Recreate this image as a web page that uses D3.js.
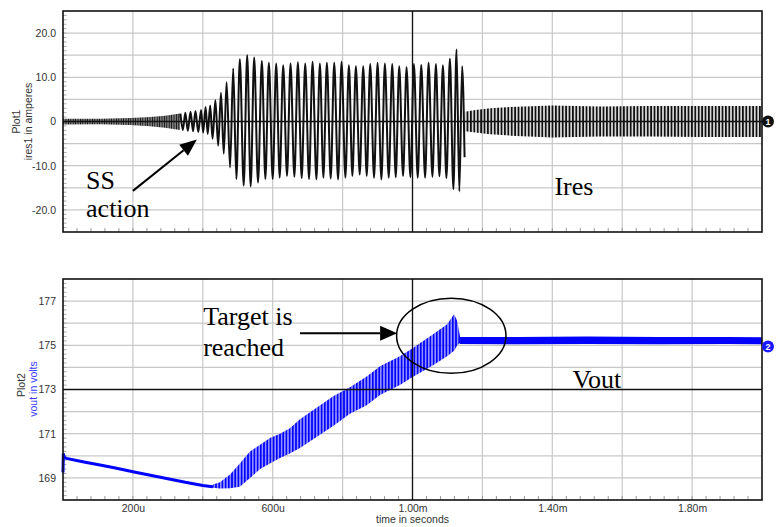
<!DOCTYPE html>
<html>
<head>
<meta charset="utf-8">
<script src="https://cdn.jsdelivr.net/npm/d3@7"></script>
<style>
  body { margin: 0; background: #fff; }
  svg { display: block; font-family: Arial, "Liberation Sans", sans-serif; }
  .ann { font-family: "Liberation Serif", "Times New Roman", serif; font-size: 26px; fill: #000; }
</style>
</head>
<body>
<div id="chart"></div>
<script>
// time is kept in microseconds
const timeLabelT = [200, 600, 1000, 1400, 1800]
const timeLabelText = ['200u', '600u', '1.00m', '1.40m', '1.80m']
const timeGridT = [200, 400, 600, 800, 1000, 1200, 1400, 1600, 1800]

const iresTicks = [20, 10, 0, -10, -20]
const iresTickText = ['20.0', '10.0', '0', '-10.0', '-20.0']
const iresGrid = [20, 15, 10, 5, -5, -10, -15, -20]

const voutTicks = [177, 175, 173, 171, 169]
const voutTickText = ['177', '175', '173', '171', '169']
const voutGrid = [177, 176, 175, 174, 172, 171, 170, 169]

// ires, low level switching before soft start ramps up (envelope)
const iresPreT  = [0, 106, 192, 249, 292, 335]
const iresPreHi = [0.6, 0.6, 0.8, 1.0, 1.3, 1.8]
const iresPreLo = [-0.7, -0.6, -0.8, -1.1, -1.4, -1.9]

// ires, soft start: each positive and negative peak
const iresPeakT = [336, 350, 365, 379, 395, 408, 421, 436, 452, 468, 487, 506, 527, 547, 569,
  589, 610, 630, 651, 672, 693, 714, 735, 755, 776, 797, 818, 838, 859, 879, 900, 921, 942,
  962, 983, 1004, 1025, 1046, 1067, 1087, 1107, 1126, 1142]
const iresPeakV = [1.8, 2.0, 2.2, 2.4, 2.6, 3.3, 3.6, 4.8, 6.5, 8.9, 12.0, 14.1, 15.0, 14.5, 13.7,
  13.3, 13.1, 12.7, 13.1, 13.4, 13.1, 13.5, 13.1, 13.3, 13.3, 13.5, 12.7, 12.5, 12.5, 13.0, 13.3,
  13.1, 13.0, 12.5, 12.3, 13.0, 12.8, 13.3, 13.0, 12.7, 14.2, 16.3, 12.5]
const iresTroughT = [343, 357, 372, 387, 401, 414, 428, 444, 460, 478, 496, 517, 537, 558, 579,
  600, 620, 641, 662, 683, 704, 725, 745, 766, 787, 808, 828, 849, 869, 890, 911, 932, 952,
  973, 994, 1015, 1036, 1057, 1077, 1097, 1117, 1134, 1149]
const iresTroughV = [-1.9, -2.1, -2.2, -2.4, -2.5, -2.8, -3.9, -5.5, -7.3, -10.4, -13.0, -14.5,
  -14.7, -13.8, -13.0, -13.0, -12.7, -12.3, -12.5, -12.8, -13.0, -13.1, -12.7, -12.9, -13.1,
  -12.7, -12.3, -12.0, -12.3, -12.7, -13.1, -12.7, -12.6, -12.3, -12.6, -12.7, -12.7, -12.5,
  -12.4, -12.8, -15.3, -15.8, -8.1]

// ires, steady state after target is reached (envelope)
const iresPostT  = [1150, 1180, 1222, 1280, 1400, 1536, 1680, 1822, 2000]
const iresPostHi = [2.2, 2.6, 3.0, 3.3, 3.6, 3.4, 3.5, 3.5, 3.5]
const iresPostLo = [-2.2, -2.5, -2.9, -3.2, -3.6, -3.4, -3.4, -3.5, -3.5]

// vout, slow droop before soft start
const voutPreT = [0, 1, 3, 10, 60, 106, 150, 200, 250, 300, 350, 400, 429]
const voutPreV = [169.25, 170.1, 169.95, 169.88, 169.72, 169.58, 169.45, 169.28, 169.12,
  168.96, 168.8, 168.66, 168.6]

// vout, ramp with ripple (ripple envelope)
const voutRiseT  = [429, 449, 478, 506, 535, 564, 592, 621, 649, 678, 773, 821, 870, 907, 964,
  999, 1059, 1099, 1119, 1128, 1136]
const voutRiseHi = [168.7, 168.8, 169.15, 169.65, 170.2, 170.5, 170.8, 171.0, 171.25, 171.65,
  172.7, 173.1, 173.6, 174.05, 174.5, 174.85, 175.5, 175.95, 176.4, 176.1, 175.4]
const voutRiseLo = [168.55, 168.52, 168.53, 168.6, 169.0, 169.4, 169.65, 169.9, 170.1, 170.35,
  171.35, 171.9, 172.3, 172.75, 173.2, 173.55, 174.1, 174.5, 174.75, 175.0, 175.1]

// vout, regulated
const voutFlatT  = [1136, 1300, 1500, 1700, 1900, 2000]
const voutFlatHi = [175.38, 175.38, 175.4, 175.38, 175.38, 175.36]
const voutFlatLo = [175.06, 175.05, 175.06, 175.05, 175.06, 175.05]

const x = d3.scaleLinear().domain([0, 2000]).range([63, 762])
const yI = d3.scaleLinear().domain([-25, 25]).range([232, 11])
const yV = d3.scaleLinear().domain([168, 178]).range([500, 279])

var svg = d3.select('#chart')
  .append('svg')
  .attr('width', 780)
  .attr('height', 527)

var defs = svg.append('defs')
function hatch(id, color, gap, w) {
  var p = defs.append('pattern')
    .attr('id', id)
    .attr('patternUnits', 'userSpaceOnUse')
    .attr('width', gap)
    .attr('height', 10)
  p.append('line')
    .attr('x1', gap / 2).attr('x2', gap / 2)
    .attr('y1', 0).attr('y2', 10)
    .attr('stroke', color)
    .attr('stroke-width', w)
}
hatch('hatchPre', '#111', 2.4, 1.7)
hatch('hatchPost', '#111', 3.4, 2)
hatch('hatchBlue', '#0000ff', 3.2, 2.3)

function zip(ts, hi, lo) {
  return ts.map(function(t, i) { return { t: t, hi: hi[i], lo: lo[i] } })
}

function grid(y, hGrid, ticks, tickText, minorStep) {
  var yb = y.range()[0], yt = y.range()[1]
  var g = svg.append('g')
  g.selectAll('.vgrid').data(timeGridT).enter().append('line')
    .attr('x1', d => x(d)).attr('x2', d => x(d))
    .attr('y1', yt).attr('y2', yb)
    .attr('stroke', '#c8c8c8').attr('stroke-width', 1.2)
  g.selectAll('.hgrid').data(hGrid).enter().append('line')
    .attr('x1', x.range()[0]).attr('x2', x.range()[1])
    .attr('y1', d => y(d)).attr('y2', d => y(d))
    .attr('stroke', '#c8c8c8').attr('stroke-width', 1.2)

  // small ticks inside the frame
  g.selectAll('.xminor').data(d3.range(40, 2000, 40)).enter().append('line')
    .attr('x1', d => x(d)).attr('x2', d => x(d))
    .attr('y1', yb).attr('y2', yb - 4)
    .attr('stroke', '#999').attr('stroke-width', 1)
  var dom = y.domain()
  g.selectAll('.yminor').data(d3.range(dom[0] + minorStep, dom[1] - minorStep / 2, minorStep)).enter().append('line')
    .attr('x1', x.range()[0]).attr('x2', x.range()[0] + 3.5)
    .attr('y1', d => y(d)).attr('y2', d => y(d))
    .attr('stroke', '#aaa').attr('stroke-width', 1)

  g.append('g')
    .attr('transform', 'translate(' + x.range()[0] + ',0)')
    .call(d3.axisLeft(y).tickValues(ticks).tickFormat((d, i) => tickText[i]).tickSize(0).tickPadding(7))
    .call(a => a.select('.domain').remove())
    .attr('font-size', 10.5)
    .attr('font-family', 'Arial, "Liberation Sans", sans-serif')
    .selectAll('text').attr('fill', '#333')
}

function frame(y, midValue) {
  var yb = y.range()[0], yt = y.range()[1]
  svg.append('line')
    .attr('x1', x(1000)).attr('x2', x(1000)).attr('y1', yt).attr('y2', yb)
    .attr('stroke', '#111').attr('stroke-width', 1.3)
  svg.append('line')
    .attr('x1', x.range()[0]).attr('x2', x.range()[1]).attr('y1', y(midValue)).attr('y2', y(midValue))
    .attr('stroke', '#111').attr('stroke-width', 1.3)
  svg.append('rect')
    .attr('x', x.range()[0]).attr('y', yt)
    .attr('width', x.range()[1] - x.range()[0]).attr('height', yb - yt)
    .attr('fill', 'none').attr('stroke', '#111').attr('stroke-width', 1.6)
}

function yTitle(cx, cy, txt, color) {
  svg.append('text')
    .attr('transform', 'translate(' + cx + ',' + cy + ') rotate(-90)')
    .attr('text-anchor', 'middle')
    .attr('dy', '0.35em')
    .attr('font-size', 10.5)
    .attr('fill', color)
    .text(txt)
}

function arrow(x1, y1, x2, y2, len, half) {
  var a = Math.atan2(y2 - y1, x2 - x1)
  var bx = x2 - len * Math.cos(a), by = y2 - len * Math.sin(a)
  svg.append('line')
    .attr('x1', x1).attr('y1', y1).attr('x2', bx).attr('y2', by)
    .attr('stroke', '#000').attr('stroke-width', 2)
  var pts = [
    [x2, y2],
    [bx + half * Math.sin(a), by - half * Math.cos(a)],
    [bx - half * Math.sin(a), by + half * Math.cos(a)]
  ]
  svg.append('polygon').attr('points', pts.map(p => p.join(',')).join(' ')).attr('fill', '#000')
}

function marker(cx, cy, color, label) {
  svg.append('circle').attr('cx', cx).attr('cy', cy).attr('r', 6).attr('fill', color)
  svg.append('text').attr('x', cx).attr('y', cy).attr('dy', '0.36em')
    .attr('text-anchor', 'middle').attr('font-size', 9).attr('font-weight', 'bold')
    .attr('fill', '#fff').text(label)
}

// ---------------- Plot1: ires ----------------
grid(yI, iresGrid, iresTicks, iresTickText, 1)

var band = d3.area()
  .x(d => x(d.t))
  .y0(d => yI(d.lo))
  .y1(d => yI(d.hi))

svg.append('path').datum(zip(iresPreT, iresPreHi, iresPreLo))
  .attr('d', band).attr('fill', 'url(#hatchPre)')
svg.append('path').datum(zip(iresPostT, iresPostHi, iresPostLo))
  .attr('d', band).attr('fill', 'url(#hatchPost)')

var swing = iresPeakT.map((t, i) => ({ t: t, v: iresPeakV[i] }))
  .concat(iresTroughT.map((t, i) => ({ t: t, v: iresTroughV[i] })))
  .sort((a, b) => a.t - b.t)

svg.append('path').datum(swing)
  .attr('d', d3.line().x(d => x(d.t)).y(d => yI(d.v)).curve(d3.curveMonotoneX))
  .attr('fill', 'none')
  .attr('stroke', '#111')
  .attr('stroke-width', 2)

frame(yI, 0)
marker(x(2000) + 6, yI(0), '#111', '1')
yTitle(16, yI(0), 'Plot1', '#333')
yTitle(28, yI(0), 'ires1 in amperes', '#333')

// ---------------- Plot2: vout ----------------
grid(yV, voutGrid, voutTicks, voutTickText, 0.2)

svg.append('path').datum(voutPreT.map((t, i) => ({ t: t, v: voutPreV[i] })))
  .attr('d', d3.line().x(d => x(d.t)).y(d => yV(d.v)))
  .attr('fill', 'none')
  .attr('stroke', '#0000ff')
  .attr('stroke-width', 3)

var vband = d3.area()
  .x(d => x(d.t))
  .y0(d => yV(d.lo))
  .y1(d => yV(d.hi))

svg.append('path').datum(zip(voutRiseT, voutRiseHi, voutRiseLo))
  .attr('d', vband).attr('fill', 'url(#hatchBlue)')
svg.append('path').datum(zip(voutFlatT, voutFlatHi, voutFlatLo))
  .attr('d', vband).attr('fill', '#0000ff')

frame(yV, 173)
marker(x(2000) + 6, yV(174.95), '#1a1aff', '2')
yTitle(21, 385, 'Plot2', '#333')
yTitle(33.5, 389, 'vout in volts', '#3a3aff')

// time axis labels under Plot2
svg.append('g')
  .attr('transform', 'translate(0,' + yV.range()[0] + ')')
  .call(d3.axisBottom(x).tickValues(timeLabelT).tickFormat((d, i) => timeLabelText[i]).tickSize(0).tickPadding(5))
  .call(a => a.select('.domain').remove())
  .attr('font-size', 10.5)
  .attr('font-family', 'Arial, "Liberation Sans", sans-serif')
  .selectAll('text').attr('fill', '#333')

svg.append('text')
  .attr('x', x(1000)).attr('y', 523)
  .attr('text-anchor', 'middle')
  .attr('font-size', 10.5)
  .attr('fill', '#333')
  .text('time in seconds')

// ---------------- annotations ----------------
svg.append('text').attr('class', 'ann').attr('x', x(66)).attr('y', yI(-15.2)).text('SS')
svg.append('text').attr('class', 'ann').attr('x', x(66)).attr('y', yI(-21.6)).text('action')
arrow(x(200), yI(-15.7), x(383), yI(-4.1), 17, 7)
svg.append('text').attr('class', 'ann').attr('x', x(1406)).attr('y', yI(-16.6)).text('Ires')

svg.append('text').attr('class', 'ann').attr('x', x(401)).attr('y', yV(175.91)).text('Target is')
svg.append('text').attr('class', 'ann').attr('x', x(401)).attr('y', yV(174.51)).text('reached')
arrow(x(678), yV(175.55), x(956), yV(175.55), 17, 7.5)
svg.append('ellipse')
  .attr('cx', x(1111)).attr('cy', yV(175.43))
  .attr('rx', x(1111 + 156.5) - x(1111))
  .attr('ry', yV(175.43) - yV(175.43 + 1.7))
  .attr('fill', 'none').attr('stroke', '#000').attr('stroke-width', 1.5)
svg.append('text').attr('class', 'ann').attr('x', x(1458)).attr('y', yV(173.08)).text('Vout')
</script>
</body>
</html>
